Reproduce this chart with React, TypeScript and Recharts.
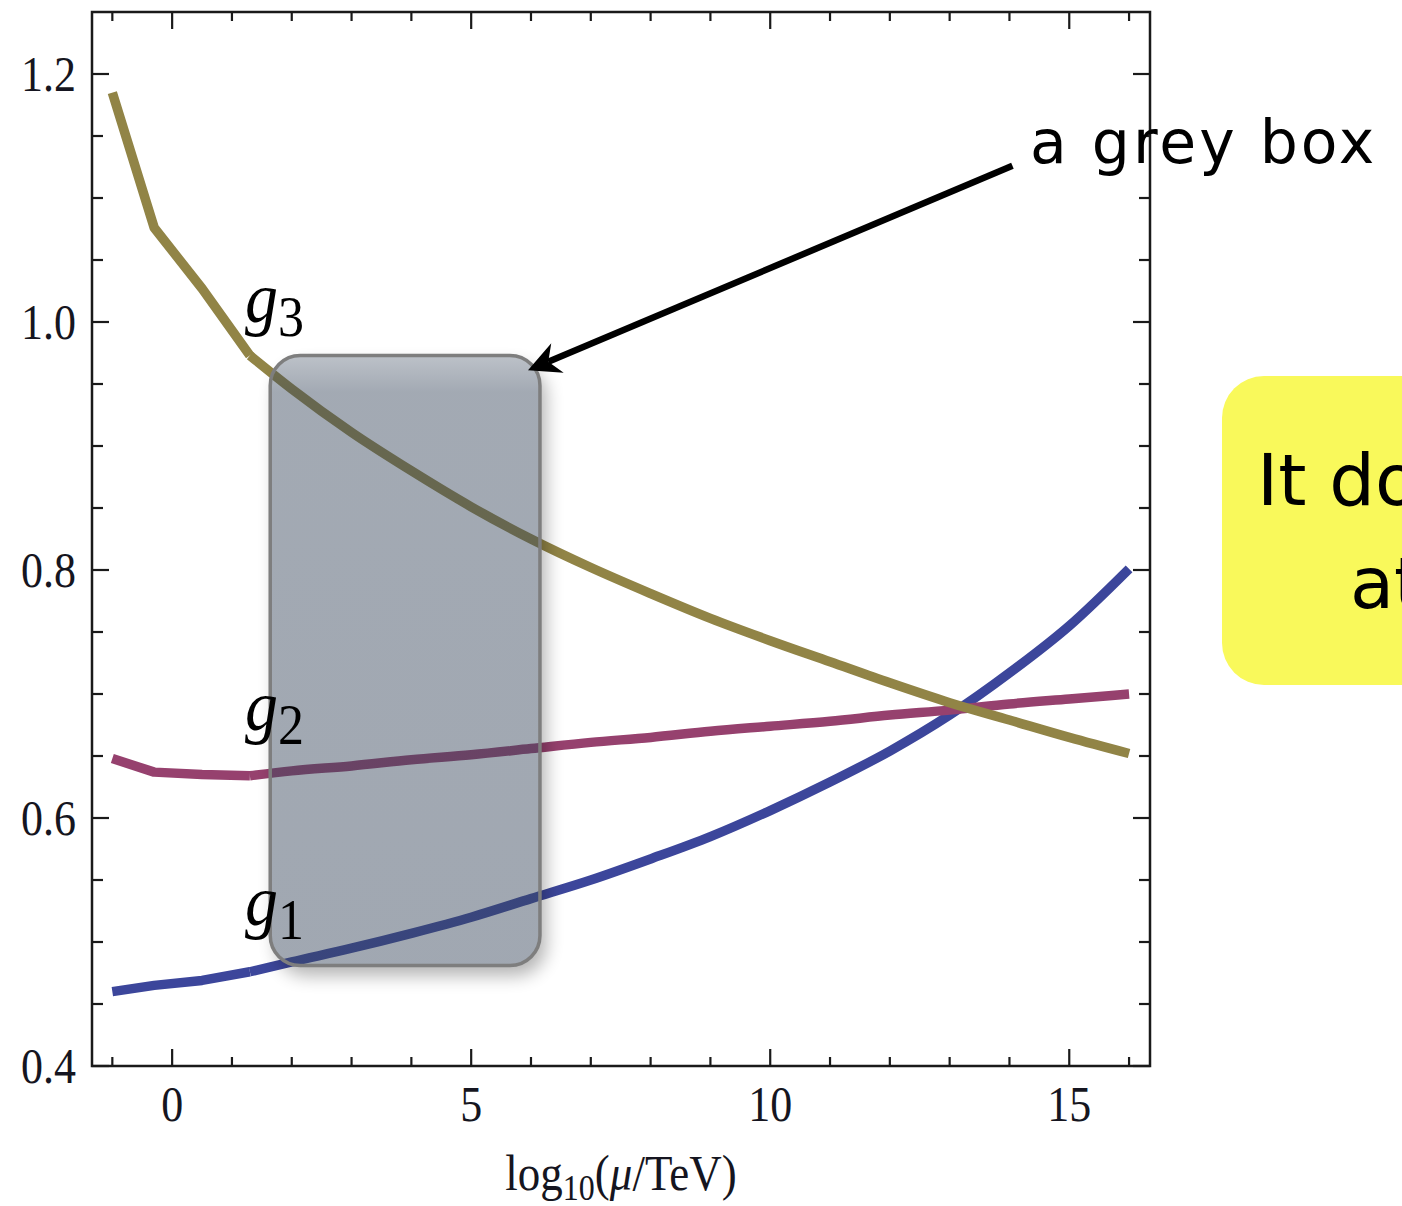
import React from "react";
import {
  LineChart,
  Line,
  XAxis,
  YAxis,
  Label,
  ReferenceArea,
  ReferenceLine,
  ReferenceDot,
} from "recharts";

// Running gauge couplings vs log10(mu / TeV)
const MU = [-1, -0.3, 0.5, 1.3, 2, 3, 4, 5, 6, 7, 8, 9, 10, 11, 12, 13, 14, 15, 16];
const G1 = [0.46, 0.465, 0.469, 0.476, 0.484, 0.495, 0.507, 0.52, 0.535, 0.55, 0.567, 0.585, 0.606, 0.629, 0.654, 0.683, 0.717, 0.755, 0.801];
const G2 = [0.648, 0.637, 0.635, 0.634, 0.638, 0.642, 0.647, 0.651, 0.656, 0.661, 0.665, 0.67, 0.674, 0.678, 0.683, 0.687, 0.692, 0.696, 0.7];
const G3 = [1.185, 1.076, 1.027, 0.973, 0.946, 0.911, 0.88, 0.851, 0.825, 0.802, 0.781, 0.761, 0.743, 0.726, 0.709, 0.693, 0.679, 0.665, 0.652];

// index of the matching scale: piecewise below, smooth running above
const MATCH = 3;

const X_MAJOR = [0, 5, 10, 15];
const X_MINOR = [-1, 1, 2, 3, 4, 6, 7, 8, 9, 11, 12, 13, 14, 16];
const Y_MAJOR = [0.4, 0.6, 0.8, 1.0, 1.2];
const Y_MINOR = [0.45, 0.5, 0.55, 0.65, 0.7, 0.75, 0.85, 0.9, 0.95, 1.05, 1.1, 1.15];

const X_DOMAIN: [number, number] = [-1.34, 16.35];
const Y_DOMAIN: [number, number] = [0.4, 1.25];

// highlighted window and the arrow pointing at it
const BOX = { x1: 1.64, x2: 6.15, y1: 0.481, y2: 0.973 };
const ARROW = [
  { x: 14.05, y: 1.126 },
  { x: 5.95, y: 0.961 },
];

const CURVE_LABELS = [
  { sub: "3", x: 1.22, y: 1.0 },
  { sub: "2", x: 1.22, y: 0.671 },
  { sub: "1", x: 1.22, y: 0.514 },
];

const BLUE = "#3c469b";
const MAGENTA = "#96416e";
const GOLD = "#918446";
const FRAME = "#1a1a1a";
const LINE_W = 9.5;
const SERIF = "'Liberation Serif', 'Times New Roman', serif";
const HAND = "'Comic Sans MS', 'DejaVu Sans', sans-serif";

const data = MU.map((m, i) => ({
  mu: m,
  g1lo: i <= MATCH ? G1[i] : null,
  g1hi: i >= MATCH ? G1[i] : null,
  g2lo: i <= MATCH ? G2[i] : null,
  g2hi: i >= MATCH ? G2[i] : null,
  g3lo: i <= MATCH ? G3[i] : null,
  g3hi: i >= MATCH ? G3[i] : null,
}));

const SERIES = [
  { key: "g1", color: BLUE },
  { key: "g2", color: MAGENTA },
  { key: "g3", color: GOLD },
];

// tick marks drawn inward on both opposite sides of the frame
function xMarks(len: number) {
  return (p: any) => {
    const top = Math.min(p.y1, p.y2);
    const bot = Math.max(p.y1, p.y2);
    return (
      <g stroke={FRAME} strokeWidth={2.2}>
        <line x1={p.x1} x2={p.x1} y1={bot} y2={bot - len} />
        <line x1={p.x1} x2={p.x1} y1={top} y2={top + len} />
      </g>
    );
  };
}

function yMarks(len: number) {
  return (p: any) => {
    const l = Math.min(p.x1, p.x2);
    const r = Math.max(p.x1, p.x2);
    return (
      <g stroke={FRAME} strokeWidth={2.2}>
        <line x1={l} x2={l + len} y1={p.y1} y2={p.y1} />
        <line x1={r} x2={r - len} y1={p.y1} y2={p.y1} />
      </g>
    );
  };
}

function XTickLabel(props: any) {
  const { x, y, payload } = props;
  return (
    <g transform={`translate(${x},${y + 55}) scale(1,1.15)`}>
      <text x={0} y={0} textAnchor="middle" fontFamily={SERIF} fontSize={44} fill="#151520">
        {payload.value}
      </text>
    </g>
  );
}

function YTickLabel(props: any) {
  const { x, y, payload } = props;
  return (
    <g transform={`translate(${x - 16},${y}) scale(1,1.15)`}>
      <text x={0} y={0} dy="0.34em" textAnchor="end" fontFamily={SERIF} fontSize={44} fill="#151520">
        {Number(payload.value).toFixed(1)}
      </text>
    </g>
  );
}

function AxisTitle(props: any) {
  const vb = props.viewBox || {};
  const cx = vb.x + vb.width / 2;
  const base = vb.y + 124;
  return (
    <g transform={`translate(${cx},${base}) scale(1,1.12)`}>
      <text x={0} y={0} textAnchor="middle" fontFamily={SERIF} fontSize={45} fill="#151520">
        log
        <tspan fontSize={32} dy={9}>10</tspan>
        <tspan dy={-9}>(</tspan>
        <tspan fontStyle="italic">μ</tspan>
        <tspan>/TeV)</tspan>
      </text>
    </g>
  );
}

function GreyBox(p: any) {
  const { x, y, width, height } = p;
  const r = 30;
  return (
    <g>
      <defs>
        <filter id="boxBlur" x="-20%" y="-20%" width="140%" height="140%">
          <feGaussianBlur stdDeviation={9} />
        </filter>
        <mask id="boxOutside" maskUnits="userSpaceOnUse" x={0} y={0} width={1402} height={1206}>
          <rect x={0} y={0} width={1402} height={1206} fill="#fff" />
          <rect x={x} y={y} width={width} height={height} rx={r} fill="#000" />
        </mask>
        <linearGradient id="boxFill" x1="0" y1="0" x2="0" y2="1">
          <stop offset="0" stopColor="rgb(54,69,90)" stopOpacity={0.33} />
          <stop offset="0.06" stopColor="rgb(54,69,90)" stopOpacity={0.46} />
          <stop offset="1" stopColor="rgb(54,69,90)" stopOpacity={0.47} />
        </linearGradient>
      </defs>
      <g mask="url(#boxOutside)">
        <rect x={x + 6} y={y + 10} width={width} height={height} rx={r} fill="#000" opacity={0.3} filter="url(#boxBlur)" />
      </g>
      <rect x={x} y={y} width={width} height={height} rx={r} fill="url(#boxFill)" stroke="#7e7e7e" strokeWidth={3.5} />
    </g>
  );
}

function Arrow(p: any) {
  const { x1, y1, x2, y2 } = p;
  const dx = x1 - x2;
  const dy = y1 - y2;
  const n = Math.hypot(dx, dy) || 1;
  const ux = dx / n;
  const uy = dy / n;
  const L = 32;
  const W = 16;
  const notch = 22;
  const pts = [
    [x2, y2],
    [x2 + ux * L - uy * W, y2 + uy * L + ux * W],
    [x2 + ux * notch, y2 + uy * notch],
    [x2 + ux * L + uy * W, y2 + uy * L - ux * W],
  ]
    .map((q) => q.join(","))
    .join(" ");
  return (
    <g>
      <line x1={x1} y1={y1} x2={x2 + ux * notch} y2={y2 + uy * notch} stroke="#000" strokeWidth={6.5} />
      <polygon points={pts} fill="#000" />
    </g>
  );
}

function curveLabel(sub: string) {
  return (p: any) => (
    <g transform={`translate(${p.cx},${p.cy}) scale(1,1.1)`}>
      <text x={0} y={0} fontFamily={SERIF} fontSize={66} fontStyle="italic" fill="#000">
        g
        <tspan fontStyle="normal" fontSize={52} dy={13}>
          {sub}
        </tspan>
      </text>
    </g>
  );
}

export default function App() {
  return (
    <div
      style={{
        position: "fixed",
        left: 0,
        top: 0,
        width: 1402,
        height: 1206,
        overflow: "hidden",
        background: "#fff",
      }}
    >
      <LineChart
        width={1402}
        height={1206}
        data={data}
        margin={{ top: 12, right: 252, bottom: 20, left: 12 }}
      >
        <XAxis
          type="number"
          dataKey="mu"
          domain={X_DOMAIN}
          allowDataOverflow
          ticks={X_MAJOR}
          interval={0}
          tick={(p: any) => <XTickLabel {...p} />}
          tickLine={false}
          axisLine={false}
          tickSize={0}
          tickMargin={0}
          height={120}
        >
          <Label content={(p: any) => <AxisTitle {...p} />} />
        </XAxis>
        <YAxis
          type="number"
          domain={Y_DOMAIN}
          allowDataOverflow
          ticks={Y_MAJOR}
          interval={0}
          tick={(p: any) => <YTickLabel {...p} />}
          tickLine={false}
          axisLine={false}
          tickSize={0}
          tickMargin={0}
          width={80}
        />

        {X_MAJOR.map((t) => (
          <ReferenceLine key={`xM${t}`} x={t} shape={xMarks(17)} />
        ))}
        {X_MINOR.map((t) => (
          <ReferenceLine key={`xm${t}`} x={t} shape={xMarks(9)} />
        ))}
        {Y_MAJOR.map((t) => (
          <ReferenceLine key={`yM${t}`} y={t} shape={yMarks(17)} />
        ))}
        {Y_MINOR.map((t) => (
          <ReferenceLine key={`ym${t}`} y={t} shape={yMarks(11)} />
        ))}

        {SERIES.flatMap((s) => [
          <Line
            key={`${s.key}lo`}
            type="linear"
            dataKey={`${s.key}lo`}
            stroke={s.color}
            strokeWidth={LINE_W}
            strokeLinejoin="round"
            dot={false}
            activeDot={false}
            connectNulls={false}
            isAnimationActive={false}
          />,
          <Line
            key={`${s.key}hi`}
            type="monotone"
            dataKey={`${s.key}hi`}
            stroke={s.color}
            strokeWidth={LINE_W}
            strokeLinejoin="round"
            dot={false}
            activeDot={false}
            connectNulls={false}
            isAnimationActive={false}
          />,
        ])}

        <ReferenceArea
          x1={X_DOMAIN[0]}
          x2={X_DOMAIN[1]}
          y1={Y_DOMAIN[0]}
          y2={Y_DOMAIN[1]}
          fill="none"
          stroke={FRAME}
          strokeWidth={2.5}
          ifOverflow="visible"
          zIndex={1100}
        />
        <ReferenceArea
          x1={BOX.x1}
          x2={BOX.x2}
          y1={BOX.y1}
          y2={BOX.y2}
          ifOverflow="visible"
          shape={(p: any) => <GreyBox {...p} />}
          zIndex={1000}
        />
        <ReferenceLine segment={ARROW} ifOverflow="visible" shape={(p: any) => <Arrow {...p} />} zIndex={1200} />
        {CURVE_LABELS.map((l) => (
          <ReferenceDot key={l.sub} x={l.x} y={l.y} r={0} ifOverflow="visible" shape={curveLabel(l.sub)} zIndex={1200} />
        ))}
      </LineChart>

      <svg
        width={1402}
        height={1206}
        style={{ position: "absolute", left: 0, top: 0, pointerEvents: "none" }}
      >
        <text x={1030} y={163} fontFamily={HAND} fontSize={60} letterSpacing={3} fill="#000">
          a grey box
        </text>
        <rect x={1222} y={376} width={300} height={309} rx={42} fill="#f9f95b" />
        <text x={1257} y={505} fontFamily={HAND} fontSize={72} fill="#000">
          It does
        </text>
        <text x={1350} y={608} fontFamily={HAND} fontSize={72} fill="#000">
          at
        </text>
      </svg>
    </div>
  );
}
